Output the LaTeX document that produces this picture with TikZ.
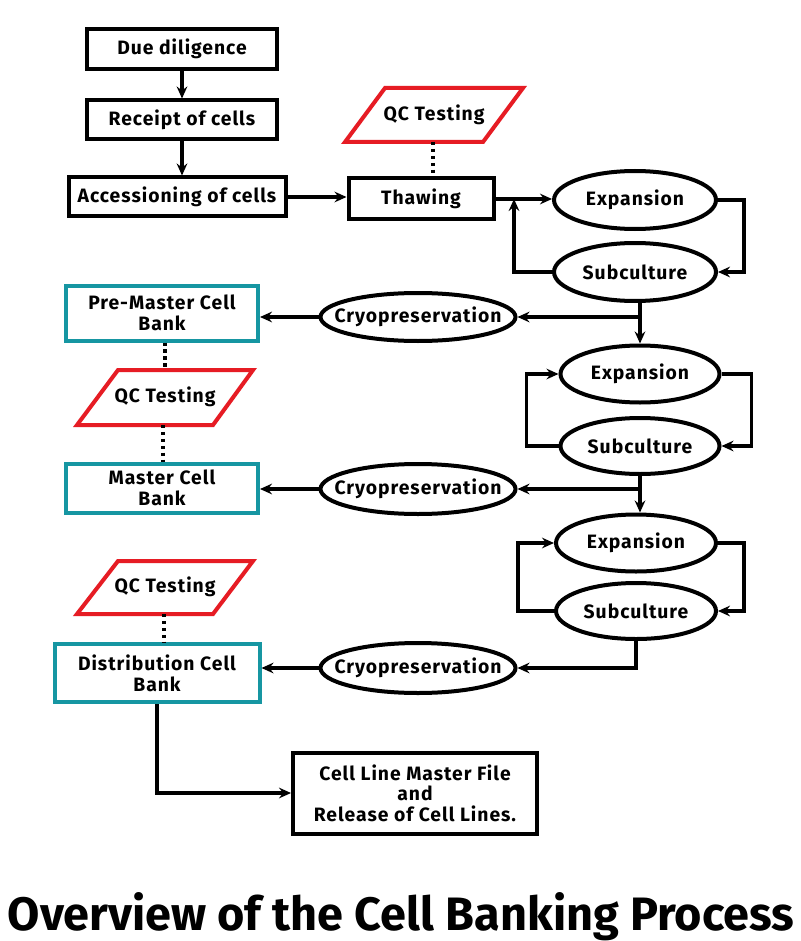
\documentclass[tikz,border=0pt]{standalone}
\usepackage{fontspec}
\setmainfont{Fira Sans}
\newfontfamily\boxfont{Fira Sans}[LetterSpace=5]
\usetikzlibrary{arrows.meta,calc,shapes.geometric}
\definecolor{qcred}{RGB}{230,28,36}
\definecolor{bankteal}{RGB}{22,150,162}
\newcommand{\ovtext}[1]{\makebox[0pt]{#1}}
\begin{document}
\begin{tikzpicture}[x=0.75pt,y=-0.75pt,
  txt/.style={font=\boxfont\fontsize{14.5}{15.5}\selectfont\bfseries, align=center, inner sep=0pt},
  stepbox/.style={txt, draw, line width=3pt, rectangle},
  bankbox/.style={txt, draw=bankteal, line width=3pt, rectangle},
  oval/.style={txt, draw, line width=3pt, ellipse},
  qcline/.style={draw=qcred, line width=3pt, line join=miter},
  arr/.style={line width=2.8pt, -{Stealth[length=9pt,width=8pt,inset=3pt]}},
  dots/.style={line width=3.5pt, dash pattern=on 2.6pt off 2.6pt},
  wh/.style={minimum width={#1*0.75pt}},
  ht/.style={minimum height={#1*0.75pt}}
]
\useasboundingbox[fill=white] (0,0) rectangle (800,941);

% left column steps
\node[stepbox, wh=190, ht=40] (due) at (182,49) {Due diligence};
\node[stepbox, wh=190, ht=39] (receipt) at (182,120) {Receipt of cells};
\node[stepbox, wh=217, ht=39] (access) at (177,197) {Accessioning of cells};
\node[stepbox, wh=145, ht=41] (thaw) at (421,199) {Thawing};

% QC testing 1
\node[txt] (qc1) at (434,115) {QC Testing};
\draw[qcline] (345,142) -- (483,142) -- (523,88) -- (385,88) -- cycle;
\coordinate (qc1b) at (433,142);

% expansion/subculture loops
\node[oval, wh=162, ht=58] (E1) at (635,200) {\ovtext{Expansion}};
\node[oval, wh=162, ht=58] (S1) at (635,272) {\ovtext{Subculture}};
\node[oval, wh=159, ht=57] (E2) at (640,374) {\ovtext{Expansion}};
\node[oval, wh=159, ht=56] (S2) at (640,446) {\ovtext{Subculture}};
\node[oval, wh=160, ht=57] (E3) at (636,543) {\ovtext{Expansion}};
\node[oval, wh=160, ht=56] (S3) at (636,611) {\ovtext{Subculture}};

% cryopreservation
\node[oval, wh=195, ht=48] (C1) at (418,317) {\ovtext{Cryopreservation}};
\node[oval, wh=195, ht=50] (C2) at (418,489) {\ovtext{Cryopreservation}};
\node[oval, wh=195, ht=50] (C3) at (418,668) {\ovtext{Cryopreservation}};

% banks
\node[bankbox, wh=192, ht=55] (PMCB) at (162,313) {Pre-Master Cell\\Bank};
\node[txt] (qc2) at (165,397) {QC Testing};
\draw[qcline] (77,425) -- (213,425) -- (253,370) -- (118,370) -- cycle;
\coordinate (qc2t) at (165,370);
\coordinate (qc2b) at (163,425);
\node[bankbox, wh=192, ht=49] (MCB) at (162,488) {Master Cell\\Bank};
\node[txt] (qc3) at (165,587) {QC Testing};
\draw[qcline] (77,614) -- (213,614) -- (253,561) -- (118,561) -- cycle;
\coordinate (qc3b) at (164,614);
\node[bankbox, wh=205, ht=58] (DCB) at (157,673) {Distribution Cell\\Bank};

\node[stepbox, wh=244, ht=81] (CLMF) at (415,793) {Cell Line Master File\\and\\Release of Cell Lines.};

% title
\node[anchor=base, inner sep=0pt] (title) at (401,930)
  {\resizebox{590pt}{!}{\bfseries Overview of the Cell Banking Process}};

% connectors
\draw[arr] (due.south) -- (receipt.north);
\draw[arr] (receipt.south) -- (receipt.south |- access.north);
\draw[arr] (access.east) -- (access.east -| thaw.west);
\draw[dots] (qc1b) -- (qc1b |- thaw.north);
\draw[arr] (thaw.east) -- (thaw.east -| E1.west);
\coordinate (j1) at (514,199);
\draw[arr] (S1.west) -| (j1);
\draw[arr] (E1.east) -- ++(26,0) |- (S1.east);
\draw[arr] (S1.south -| E2.north) -- (E2.north);
\coordinate (b1) at (640,317);
\draw[arr] (b1) -- (C1.east);
\draw[arr] (C1.west) -- (C1.west -| PMCB.east);
\draw[dots] (PMCB.south -| qc2t) -- (qc2t);
\draw[dots] (qc2b) -- (qc2b |- MCB.north);
\draw[arr] (S2.west) -- ++(-32,0) |- (E2.west);
\draw[arr] (E2.east) -- ++(30,0) |- (S2.east);
\draw[arr] (S2.south) -- (S2.south |- E3.north);
\coordinate (b2) at (640,489);
\draw[arr] (b2) -- (C2.east);
\draw[arr] (C2.west) -- (C2.west -| MCB.east);
\draw[arr] (S3.west) -- ++(-36,0) |- (E3.west);
\draw[arr] (E3.east) -- ++(26,0) |- (S3.east);
\draw[arr] (S3.south) |- (C3.east);
\draw[arr] (C3.west) -- (C3.west -| DCB.east);
\draw[dots] (qc3b) -- (qc3b |- DCB.north);
\draw[arr] (DCB.south) |- (CLMF.west);
\end{tikzpicture}
\end{document}
